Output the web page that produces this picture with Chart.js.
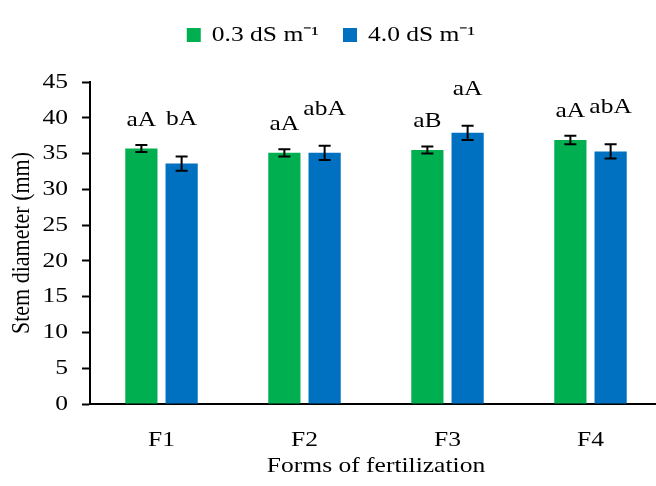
<!DOCTYPE html>
<html>
<head>
<meta charset="utf-8">
<script src="https://cdn.jsdelivr.net/npm/chart.js@4"></script>
<style>
  html, body { margin: 0; padding: 0; background: #fff; }
  #wrap { width: 656px; height: 486px; overflow: hidden; }
</style>
</head>
<body>
<div id="wrap"><canvas id="chart" width="662" height="486"></canvas></div>
<script>
// Data
const categories = ['F1', 'F2', 'F3', 'F4'];
const seriesNames = ['0.3 dS m\u207B\u00B9', '4.0 dS m\u207B\u00B9'];
const lowSalinity = [35.7, 35.1, 35.5, 36.9];
const highSalinity = [33.6, 35.1, 37.9, 35.3];
const lowErr = [0.5, 0.5, 0.5, 0.6];
const highErr = [1.0, 1.0, 1.0, 1.0];
const lowLetters = ['aA', 'aA', 'aB', 'aA'];
const highLetters = ['bA', 'abA', 'aA', 'abA'];

const FONT = 'Liberation Serif';
const FSIZE = 22;
const STRETCH = 1.16; // the original figure is a bit wider than tall

// text in the source image is stretched sideways, so widen every fillText
const wideText = {
    id: 'wideText',
    beforeInit(chart) {
        const ctx = chart.ctx;
        const fill = ctx.fillText.bind(ctx);
        const measure = ctx.measureText.bind(ctx);
        ctx.fillText = function (text, x, y, maxWidth) {
            const m = ctx.getTransform();
            const p = m.transformPoint(new DOMPoint(x, y));
            ctx.save();
            ctx.setTransform(new DOMMatrix().translate(p.x, p.y).scale(STRETCH, 1)
                .translate(-p.x, -p.y).multiply(m));
            if (maxWidth === undefined) fill(text, x, y);
            else fill(text, x, y, maxWidth);
            ctx.restore();
        };
        ctx.measureText = function (text) {
            const r = measure(text);
            return {
                width: r.width * STRETCH,
                actualBoundingBoxAscent: r.actualBoundingBoxAscent,
                actualBoundingBoxDescent: r.actualBoundingBoxDescent,
                actualBoundingBoxLeft: r.actualBoundingBoxLeft * STRETCH,
                actualBoundingBoxRight: r.actualBoundingBoxRight * STRETCH
            };
        };
    }
};

// error bars + significance letters
const errorBars = {
    id: 'errorBars',
    afterDatasetsDraw(chart) {
        const ctx = chart.ctx;
        const y = chart.scales.y;
        chart.data.datasets.forEach((ds, di) => {
            const meta = chart.getDatasetMeta(di);
            meta.data.forEach((bar, i) => {
                const v = ds.data[i];
                const e = ds.err[i];
                const top = y.getPixelForValue(v + e);
                const bot = y.getPixelForValue(v - e);
                const x = bar.x;
                ctx.save();
                ctx.strokeStyle = '#000';
                ctx.lineWidth = 2;
                ctx.beginPath();
                ctx.moveTo(x, top); ctx.lineTo(x, bot);
                ctx.moveTo(x - 6, top); ctx.lineTo(x + 6, top);
                ctx.moveTo(x - 6, bot); ctx.lineTo(x + 6, bot);
                ctx.stroke();
                // letters
                ctx.fillStyle = '#000';
                ctx.font = FSIZE + 'px "' + FONT + '"';
                ctx.textAlign = 'center';
                ctx.textBaseline = 'alphabetic';
                ctx.fillText(ds.letters[i], x, top - ds.letterGap);
                ctx.restore();
            });
        });
    }
};

const legendHeight = {
    id: 'legendHeight',
    beforeInit(chart) {
        const fit = chart.legend.fit;
        chart.legend.fit = function () {
            fit.bind(chart.legend)();
            this.height = 82;
        };
    }
};

new Chart(document.getElementById('chart'), {
    type: 'bar',
    data: {
        labels: categories,
        datasets: [
            {
                label: seriesNames[0],
                data: lowSalinity,
                err: lowErr,
                letters: lowLetters,
                letterGap: 19,
                backgroundColor: '#00B050',
                categoryPercentage: 0.563,
                barPercentage: 0.8
            },
            {
                label: seriesNames[1],
                data: highSalinity,
                err: highErr,
                letters: highLetters,
                letterGap: 31,
                backgroundColor: '#0070C0',
                categoryPercentage: 0.563,
                barPercentage: 0.8
            }
        ]
    },
    options: {
        responsive: false,
        animation: false,
        layout: { padding: 0 },
        plugins: {
            legend: {
                position: 'top',
                labels: {
                    color: '#000',
                    font: { family: FONT, size: FSIZE },
                    boxWidth: 14,
                    boxHeight: 14,
                    padding: 24
                }
            },
            tooltip: { enabled: false }
        },
        scales: {
            x: {
                grid: { display: false, drawTicks: false },
                border: { display: true, color: '#000', width: 2 },
                ticks: {
                    color: '#000',
                    font: { family: FONT, size: FSIZE },
                    padding: 23
                },
                title: {
                    display: true,
                    text: 'Forms of fertilization',
                    color: '#000',
                    font: { family: FONT, size: FSIZE },
                    padding: { top: 0, bottom: 7 }
                },
                afterFit(scale) { scale.height = 82; }
            },
            y: {
                min: 0,
                max: 45,
                grid: {
                    drawOnChartArea: false,
                    drawTicks: true,
                    tickLength: 8,
                    tickColor: '#000',
                    tickWidth: 2
                },
                border: { display: true, color: '#000', width: 2 },
                ticks: {
                    stepSize: 5,
                    color: '#000',
                    font: { family: FONT, size: FSIZE },
                    padding: 14
                },
                title: {
                    display: true,
                    text: 'Stem diameter (mm)',
                    color: '#000',
                    font: { family: FONT, size: FSIZE },
                    padding: { top: 9, bottom: 0 }
                },
                afterFit(scale) { scale.width = 90; }
            }
        }
    },
    plugins: [wideText, errorBars, legendHeight]
});
</script>
</body>
</html>
